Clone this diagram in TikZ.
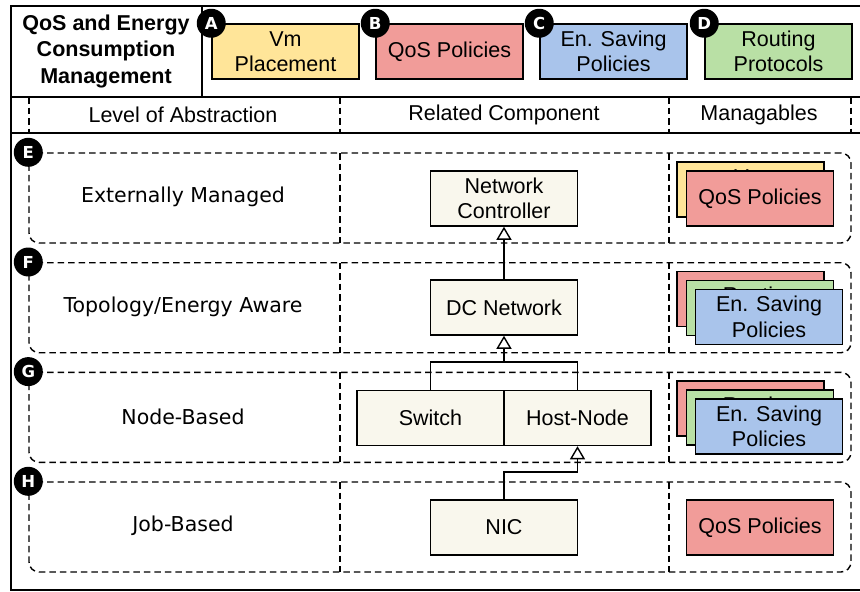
\documentclass[tikz,border=0pt]{standalone}
\usepackage{fontspec}
\setmainfont{Liberation Sans}
\newfontfamily\verd{DejaVu Sans}
\usetikzlibrary{arrows.meta}
\definecolor{vmfill}{HTML}{FFE599}
\definecolor{qosfill}{HTML}{F19C99}
\definecolor{ensfill}{HTML}{A9C4EB}
\definecolor{routfill}{HTML}{B9E0A5}
\definecolor{compfill}{HTML}{F9F7ED}
\tikzset{
  frame/.style={line width=1.6pt},
  sep/.style={line width=1.4pt, dash pattern=on 6.5pt off 4pt},
  rowbox/.style={draw, line width=1.4pt, dash pattern=on 6.5pt off 4pt, rounded corners=10pt, minimum width=822pt, minimum height=90pt, inner sep=0pt},
  card/.style={draw, line width=1.5pt, minimum width=147pt, minimum height=55pt, align=center, inner sep=0pt},
  comp/.style={card, fill=compfill},
  badge/.style={circle, fill=black, text=white, minimum size=29pt, inner sep=0pt, font=\verd\bfseries\fontsize{16.5}{16.5}\selectfont},
  level/.style={font=\verd\fontsize{20.5}{24}\selectfont},
  arr/.style={line width=1.4pt, -{Triangle[open, width=15pt, length=13pt, line width=1.4pt]}}
}
\begin{document}
\begin{tikzpicture}[x=1pt,y=-1pt,font=\fontsize{21.5}{25.5}\selectfont]
\useasboundingbox (0,0) rectangle (860,592);
\draw[frame] (860,6) -- (11,6) -- (11,590) -- (860,590);
\draw[frame] (11,97) -- (860,97);
\draw[frame] (11,133) -- (860,133);
\draw[frame] (202,6) -- (202,97);
\node[align=center, font=\bfseries\fontsize{21.5}{26.5}\selectfont] (title) at (106,51) {QoS and Energy\\Consumption\\Management};
\node[card, fill=vmfill] (vm) at (285.5,51.5) {Vm\\Placement};
\node[card, fill=qosfill] (qos) at (449.5,51.5) {QoS Policies};
\node[card, fill=ensfill] (ens) at (613.5,51.5) {En. Saving\\Policies};
\node[card, fill=routfill] (rout) at (778.5,51.5) {Routing\\Protocols};
\node[badge] (bA) at (vm.north west) {A};
\node[badge] (bB) at (qos.north west) {B};
\node[badge] (bC) at (ens.north west) {C};
\node[badge] (bD) at (rout.north west) {D};
\foreach \x in {29,340,669,851} \draw[sep] (\x,97) -- (\x,133);
\node (hLevel) at (183,115) {Level of Abstraction};
\node (hComp) at (504,115) {Related Component};
\node (hMan) at (759,115) {Managables};
\node[rowbox] (rowE) at (440,198) {};
\node[rowbox] (rowF) at (440,307.7) {};
\node[rowbox] (rowG) at (440,417.3) {};
\node[rowbox] (rowH) at (440,527) {};
\foreach \y in {153,262.7,372.3,482} {
  \draw[sep] (340,\y) -- ++(0,90);
  \draw[sep] (669,\y) -- ++(0,90);
}
\node[level] (lE) at (183,197) {Externally Managed};
\node[level] (lF) at (183,306.7) {Topology/Energy Aware};
\node[level] (lG) at (183,416.5) {Node-Based};
\node[level] (lH) at (183,526) {Job-Based};
\node[comp] (ctrl) at (504,198.5) {Network\\Controller};
\node[comp] (dcnet) at (504,307.5) {DC Network};
\node[comp] (switch) at (430.5,418) {Switch};
\node[comp] (host) at (577.5,418) {Host-Node};
\node[comp] (nic) at (504,527.5) {NIC};
\coordinate (jSw) at (504,362);
\coordinate (jNic) at (504,472);
\draw[arr] (dcnet) -- (ctrl);
\draw[line width=1.4pt] (switch.north) |- (jSw) -| (host.north);
\draw[arr] (jSw) -- (dcnet.south);
\draw[arr] (nic.north) |- (jNic) -| (host.south);
\node[card, fill=vmfill] (eVm) at (750.5,189.5) {Vm\\Placement};
\node[card, fill=qosfill] (eQos) at (760,198.5) {QoS Policies};
\node[card, fill=qosfill] (fQos) at (750.5,299) {};
\node[card, fill=routfill] (fRout) at (760,308) {Routing\\Protocols};
\node[card, fill=ensfill] (fEns) at (769,317) {En. Saving\\Policies};
\node[card, fill=qosfill] (gQos) at (750.5,408.5) {};
\node[card, fill=routfill] (gRout) at (760,417.5) {Routing\\Protocols};
\node[card, fill=ensfill] (gEns) at (769,426.5) {En. Saving\\Policies};
\node[card, fill=qosfill] (hQos) at (760,527.5) {QoS Policies};
\node[badge] (bE) at (rowE.north west) {E};
\node[badge] (bF) at (rowF.north west) {F};
\node[badge] (bG) at (rowG.north west) {G};
\node[badge] (bH) at (rowH.north west) {H};
\end{tikzpicture}
\end{document}
